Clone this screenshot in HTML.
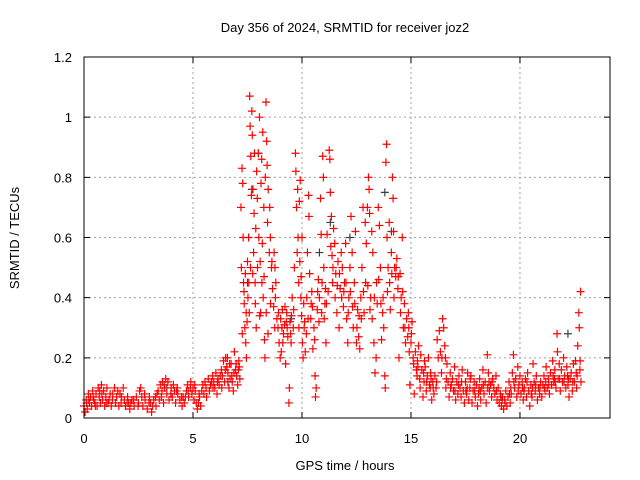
<!DOCTYPE html>
<html><head><meta charset="utf-8"><style>
html,body{margin:0;padding:0;background:#fff;}
svg{display:block;font-family:"Liberation Sans",sans-serif;}
</style></head><body>
<svg id="chart" width="640" height="480" viewBox="0 0 640 480" xmlns="http://www.w3.org/2000/svg">
<text x="345" y="32" font-size="13" text-anchor="middle" fill="#000">Day 356 of 2024, SRMTID for receiver joz2</text>
<text x="345" y="470" font-size="13" text-anchor="middle" fill="#000">GPS time / hours</text>
<text transform="translate(19,238) rotate(-90)" font-size="13" text-anchor="middle" fill="#000">SRMTID / TECUs</text>
<g id="grid"></g>
<g id="ticks"></g>
<g id="other"></g>
<g id="marks"></g>
<rect x="84" y="57" width="526" height="361" fill="none" stroke="#000" stroke-width="1"/>
</svg>
<script>
const xTicks=[0,5,10,15,20];
const yTicks=[0,0.2,0.4,0.6,0.8,1,1.2];
const yTickLabels=["0","0.2","0.4","0.6","0.8","1","1.2"];
const srmtid=[[0,0.04],[0.05,0.02],[0.1,0.06],[0.15,0.03],[0.2,0.08],[0.25,0.05],[0.3,0.07],[0.35,0.04],[0.4,0.09],[0.45,0.06],[0.5,0.05],[0.55,0.08],[0.6,0.04],[0.65,0.1],[0.7,0.07],[0.75,0.05],[0.8,0.11],[0.85,0.06],[0.9,0.09],[0.95,0.04],[1.0,0.07],[1.05,0.1],[1.1,0.05],[1.2,0.08],[1.25,0.04],[1.3,0.06],[1.4,0.1],[1.45,0.05],[1.5,0.07],[1.6,0.04],[1.65,0.08],[1.7,0.05],[1.8,0.1],[1.85,0.06],[1.9,0.04],[2.0,0.07],[2.05,0.05],[2.1,0.03],[2.2,0.06],[2.3,0.04],[2.4,0.07],[2.5,0.05],[2.55,0.09],[2.6,0.1],[2.7,0.04],[2.8,0.06],[2.9,0.03],[3.0,0.07],[3.05,0.05],[3.1,0.02],[3.2,0.06],[3.3,0.04],[3.35,0.08],[3.4,0.09],[3.5,0.11],[3.55,0.07],[3.6,0.12],[3.65,0.05],[3.7,0.1],[3.8,0.08],[3.85,0.12],[3.9,0.06],[4.0,0.1],[4.05,0.07],[4.1,0.11],[4.2,0.05],[4.25,0.09],[4.3,0.08],[4.4,0.06],[4.5,0.04],[4.55,0.07],[4.6,0.05],[4.7,0.09],[4.75,0.11],[4.8,0.07],[4.9,0.12],[4.95,0.08],[5.0,0.1],[5.05,0.06],[5.1,0.09],[5.15,0.05],[5.2,0.03],[5.3,0.07],[5.35,0.04],[5.4,0.09],[5.5,0.08],[5.55,0.12],[5.6,0.1],[5.7,0.13],[5.75,0.09],[5.8,0.11],[5.9,0.14],[5.95,0.12],[6.0,0.1],[6.05,0.15],[6.1,0.08],[6.15,0.13],[6.2,0.11],[6.3,0.16],[6.35,0.14],[6.4,0.19],[6.45,0.12],[6.5,0.2],[6.55,0.17],[6.6,0.15],[6.65,0.1],[6.7,0.13],[6.75,0.18],[6.8,0.12],[6.85,0.09],[6.9,0.22],[6.95,0.16],[7.0,0.14],[7.05,0.11],[7.1,0.19],[7.15,0.13],
[7.2,0.7],[7.22,0.5],[7.25,0.83],[7.28,0.78],[7.3,0.6],[7.32,0.45],[7.35,0.38],[7.38,0.3],[7.4,0.48],[7.42,0.25],[7.45,0.2],[7.5,0.52],[7.52,0.4],[7.55,0.6],[7.58,0.35],[7.6,1.07],[7.62,0.97],[7.65,0.87],[7.68,0.74],[7.7,1.02],[7.72,0.94],[7.75,0.76],[7.78,0.55],[7.8,0.68],[7.82,0.88],[7.85,0.45],[7.88,0.63],[7.9,0.3],[7.92,0.82],[7.95,0.73],[8.0,0.88],[8.02,0.6],[8.05,1.0],[8.08,0.52],[8.1,0.35],[8.12,0.78],[8.15,0.86],[8.18,0.58],[8.2,0.95],[8.22,0.4],[8.25,0.7],[8.28,0.26],[8.3,0.2],[8.32,0.8],[8.35,1.05],[8.38,0.92],[8.4,0.84],[8.42,0.65],[8.45,0.76],[8.5,0.55],[8.52,0.7],[8.55,0.6],[8.6,0.5],[8.65,0.43],[8.7,0.37],[8.72,0.55],[8.75,0.3],[8.8,0.45],[8.85,0.33],
[8.9,0.3],[8.95,0.25],[9.0,0.2],[9.02,0.33],[9.05,0.22],[9.1,0.36],[9.15,0.28],[9.2,0.31],[9.25,0.18],[9.3,0.35],[9.35,0.27],[9.4,0.05],[9.42,0.1],[9.45,0.32],[9.5,0.25],[9.55,0.4],[9.6,0.3],[9.65,0.5],[9.7,0.88],[9.72,0.82],[9.75,0.7],[9.78,0.55],[9.8,0.76],[9.82,0.6],[9.85,0.45],[9.88,0.72],[9.9,0.52],[9.92,0.79],[9.95,0.4],[9.98,0.34],[10.0,0.6],[10.02,0.25],[10.05,0.2],[10.1,0.3],[10.15,0.22],[10.2,0.28],[10.25,0.55],[10.3,0.74],[10.32,0.67],[10.35,0.48],[10.4,0.33],[10.45,0.42],[10.5,0.23],[10.55,0.3],[10.6,0.14],[10.62,0.07],[10.65,0.1],[10.7,0.36],[10.75,0.46],[10.8,0.4],[10.85,0.73],[10.88,0.61],[10.9,0.35],[10.95,0.87],[10.98,0.8],[11.0,0.5],[11.05,0.38],[11.1,0.25],[11.15,0.61],[11.2,0.42],[11.25,0.89],[11.28,0.86],[11.3,0.75],[11.32,0.57],[11.35,0.67],[11.38,0.54],[11.4,0.45],[11.45,0.63],[11.5,0.58],[11.55,0.48],[11.6,0.35],[11.65,0.52],[11.7,0.3],[11.75,0.43],[11.8,0.55],[11.85,0.5],[11.9,0.37],[11.95,0.45],[12.0,0.58],[12.05,0.33],[12.1,0.25],[12.15,0.4],[12.2,0.5],[12.25,0.67],[12.3,0.55],[12.35,0.3],[12.4,0.45],[12.45,0.62],[12.5,0.25],[12.55,0.36],[12.6,0.27],[12.65,0.23],[12.7,0.4],[12.75,0.5],[12.8,0.7],[12.85,0.35],[12.9,0.65],[12.95,0.58],[13.0,0.7],[13.02,0.44],[13.05,0.8],[13.08,0.76],[13.1,0.68],[13.15,0.4],[13.2,0.62],[13.25,0.55],[13.3,0.25],[13.35,0.15],[13.4,0.2],[13.45,0.38],[13.5,0.7],[13.55,0.64],[13.6,0.5],[13.65,0.26],[13.7,0.35],[13.75,0.3],[13.8,0.14],[13.82,0.1],[13.85,0.85],[13.88,0.91],[13.9,0.6],[13.95,0.5],[14.0,0.65],[14.05,0.36],[14.1,0.55],[14.15,0.8],[14.18,0.73],[14.2,0.62],[14.25,0.5],[14.3,0.47],[14.35,0.53],[14.4,0.43],[14.45,0.2],[14.5,0.48],[14.55,0.4],[14.6,0.6],[14.65,0.3],[14.7,0.38],[14.75,0.25],[14.8,0.33],[14.85,0.27],[14.9,0.3],[14.95,0.11],[15.0,0.25],[15.05,0.32],[15.1,0.2],[15.15,0.08],[15.2,0.22],[15.25,0.16],[15.3,0.19],[15.35,0.24],[15.4,0.13],[15.45,0.21],[15.5,0.16],[15.55,0.07],[15.6,0.12],[15.65,0.17],[15.7,0.09],[15.75,0.14],[15.8,0.2],[15.85,0.11],[15.9,0.15],[15.95,0.06],[16.0,0.12],[16.05,0.08],[16.1,0.14],[16.15,0.1],[16.2,0.26],[16.25,0.2],[16.3,0.29],[16.35,0.22],[16.4,0.15],[16.45,0.33],[16.5,0.3],[16.55,0.24],[16.6,0.1],[16.65,0.18],[16.7,0.12],[16.75,0.07],[16.8,0.15],[16.85,0.11],[16.9,0.13],[16.95,0.09],[17.0,0.17],[17.05,0.06],[17.1,0.12],[17.15,0.08],[17.2,0.14],[17.25,0.1],[17.3,0.07],[17.35,0.16],[17.4,0.09],[17.45,0.05],[17.5,0.12],[17.55,0.08],[17.6,0.15],[17.65,0.06],[17.7,0.1],[17.75,0.14],[17.8,0.05],[17.85,0.09],[17.9,0.12],[17.95,0.07],[18.0,0.11],[18.05,0.04],[18.1,0.08],[18.15,0.13],[18.2,0.06],[18.25,0.1],[18.3,0.16],[18.35,0.08],[18.4,0.12],[18.45,0.05],[18.5,0.21],[18.55,0.15],[18.6,0.09],[18.65,0.11],[18.7,0.07],[18.75,0.13],[18.8,0.1],[18.85,0.08],[18.9,0.14],[18.95,0.06],[19.0,0.1],[19.05,0.05],[19.1,0.08],[19.15,0.04],[19.2,0.07],[19.25,0.03],[19.3,0.06],[19.35,0.09],[19.4,0.04],[19.45,0.07],[19.5,0.12],[19.55,0.05],[19.6,0.08],[19.65,0.15],[19.7,0.21],[19.75,0.1],[19.8,0.13],[19.85,0.07],[19.9,0.17],[19.95,0.11],[20.0,0.14],[20.05,0.08],[20.1,0.12],[20.15,0.06],[20.2,0.1],[20.25,0.13],[20.3,0.07],[20.35,0.15],[20.4,0.09],[20.45,0.04],[20.5,0.11],[20.55,0.07],[20.6,0.18],[20.65,0.12],[20.7,0.09],[20.75,0.14],[20.8,0.06],[20.85,0.1],[20.9,0.08],[20.95,0.12],[21.0,0.07],[21.05,0.11],[21.1,0.14],[21.15,0.09],[21.2,0.17],[21.25,0.1],[21.3,0.13],[21.35,0.08],[21.4,0.15],[21.45,0.11],[21.5,0.19],[21.55,0.12],[21.6,0.16],[21.65,0.1],[21.7,0.28],[21.72,0.22],[21.75,0.13],[21.8,0.18],[21.85,0.09],[21.9,0.16],[21.95,0.12],[22.0,0.2],[22.05,0.14],[22.1,0.1],[22.15,0.17],[22.2,0.11],[22.25,0.07],[22.3,0.13],[22.35,0.15],[22.4,0.09],[22.45,0.18],[22.5,0.12],[22.55,0.19],[22.6,0.1],[22.65,0.24],[22.7,0.35],[22.72,0.3],[22.75,0.16],[22.78,0.42],[22.8,0.12],
[0.12,0.05],[0.42,0.07],[0.72,0.09],[1.15,0.06],[1.55,0.09],[2.15,0.05],[2.65,0.07],[3.15,0.04],[3.45,0.06],[3.75,0.13],[4.15,0.09],[4.65,0.07],[5.25,0.05],[5.45,0.11],[5.85,0.12],[6.25,0.14],[6.58,0.2],[6.88,0.15],[7.12,0.17],[7.34,0.42],[7.48,0.32],[7.64,0.5],[7.86,0.38],[8.06,0.34],[8.26,0.47],[8.44,0.28],[8.62,0.52],[8.78,0.4],[9.08,0.3],[9.28,0.32],[9.48,0.28],[10.08,0.38],[10.28,0.33],[10.48,0.37],[10.78,0.32],[11.08,0.43],[11.42,0.5],[11.72,0.48],[11.92,0.42],[12.12,0.35],[12.42,0.38],[12.72,0.33],[13.12,0.36],[13.42,0.45],[13.72,0.4],[14.02,0.45],[14.32,0.5],[14.62,0.42],[14.88,0.35],[15.28,0.14],[15.58,0.15],[15.88,0.1],[16.18,0.12],[16.58,0.2],[17.18,0.11],[17.58,0.1],[18.18,0.09],[18.58,0.12],[19.18,0.06],[19.58,0.1],[20.18,0.09],[20.58,0.1],[21.18,0.12],[21.58,0.13],[22.18,0.14],[22.58,0.15],
[0.22,0.06],[0.52,0.04],[0.82,0.08],[1.02,0.05],[1.32,0.08],[1.72,0.07],[1.98,0.05],[2.28,0.06],[2.48,0.04],[2.78,0.08],[2.98,0.05],[3.28,0.07],[3.58,0.09],[3.68,0.11],[3.98,0.08],[4.28,0.1],[4.48,0.07],[4.78,0.09],[4.88,0.1],[5.08,0.11],[5.28,0.08],[5.62,0.07],[5.92,0.1],[6.12,0.12],[6.32,0.1],[6.48,0.16],[6.68,0.18],[6.78,0.14],[6.98,0.18],[7.08,0.16],[7.26,0.28],[7.44,0.35],[7.56,0.45],[7.74,0.48],[7.96,0.5],[8.16,0.45],[8.36,0.35],[8.56,0.38],[8.76,0.5],[8.92,0.35],[9.12,0.25],[9.22,0.37],[9.32,0.3],[9.52,0.34],[9.62,0.36],[9.86,0.3],[9.96,0.47],[10.12,0.32],[10.22,0.4],[10.42,0.38],[10.58,0.26],[10.72,0.42],[10.92,0.45],[11.02,0.33],[11.12,0.38],[11.52,0.4],[11.62,0.44],[11.82,0.4],[12.02,0.45],[12.22,0.42],[12.32,0.37],[12.52,0.3],[12.62,0.34],[12.82,0.42],[12.92,0.45],[13.22,0.33],[13.32,0.4],[13.52,0.46],[13.62,0.38],[13.92,0.42],[14.12,0.48],[14.22,0.4],[14.42,0.47],[14.52,0.35],[14.72,0.3],[14.92,0.22],[15.02,0.28],[15.12,0.18],[15.32,0.17],[15.42,0.1],[15.62,0.19],[15.72,0.12],[15.92,0.13],[16.02,0.1],[16.42,0.2],[16.62,0.13],[16.82,0.1],[17.02,0.09],[17.32,0.12],[17.52,0.09],[17.72,0.13],[17.92,0.09],[18.12,0.1],[18.32,0.11],[18.52,0.1],[18.72,0.12],[18.92,0.09],[19.12,0.07],[19.32,0.05],[19.52,0.08],[19.72,0.12],[19.92,0.09],[20.12,0.1],[20.32,0.12],[20.52,0.08],[20.72,0.11],[20.92,0.1],[21.12,0.1],[21.32,0.11],[21.52,0.14],[21.62,0.12],[21.82,0.13],[22.02,0.12],[22.22,0.13],[22.42,0.12],[22.62,0.14],[22.76,0.19]];
const otherSeries=[[3.8,0.1],[6.6,0.12],[7.5,0.45],[7.7,0.76],[8.0,0.88],[9.5,0.33],[10.8,0.55],[11.3,0.65],[12.2,0.6],[13.8,0.75],[14.1,0.62],[22.2,0.28]];

const X0=84,X1=610,Y0=418,Y1=57,XMAX=24.13,YMAX=1.2;
const NS="http://www.w3.org/2000/svg";
function sx(v){return X0+(X1-X0)*v/XMAX;}
function sy(v){return Y0-(Y0-Y1)*v/YMAX;}
function mk(tag,attrs){const e=document.createElementNS(NS,tag);for(const k in attrs)e.setAttribute(k,attrs[k]);return e;}
const grid=document.getElementById('grid'),ticks=document.getElementById('ticks');
xTicks.forEach(t=>{
  const x=sx(t);
  if(t>0){const g=mk('line',{x1:x,y1:Y1,x2:x,y2:Y0,stroke:'#a0a0a0','stroke-dasharray':'2,3','stroke-width':1});
  
  
  grid.appendChild(g);}
  const tk=mk('path',{d:`M${x},${Y0}v-6M${x},${Y1}v6`,stroke:'#000','stroke-width':1});
  
  
  ticks.appendChild(tk);
  const lb=mk('text',{x:x,y:443,'font-size':13,'text-anchor':'middle',fill:'#000'});lb.textContent=String(t);
  
  
  ticks.appendChild(lb);
});
yTicks.forEach((t,i)=>{
  const y=sy(t);
  if(t>0&&t<YMAX){const g=mk('line',{x1:X0,y1:y,x2:X1,y2:y,stroke:'#a0a0a0','stroke-dasharray':'2,3','stroke-width':1});
  
  
  grid.appendChild(g);}
  const tk=mk('path',{d:`M${X0},${y}h6M${X1},${y}h-6`,stroke:'#000','stroke-width':1});
  
  
  ticks.appendChild(tk);
  const lb=mk('text',{x:72,y:y+5,'font-size':13,'text-anchor':'end',fill:'#000'});lb.textContent=yTickLabels[i];
  
  
  ticks.appendChild(lb);
});
function plus(g,d,col,name){
  const x=sx(d[0]),y=sy(d[1]);
  const p=mk('path',{d:`M${x-4},${y}h8M${x},${y-4}v8`,stroke:col,'stroke-width':1.2,fill:'none'});
  
  
  g.appendChild(p);
}
const og=document.getElementById('other');
otherSeries.forEach(d=>plus(og,d,'#404040','secondary-point'));
const mg=document.getElementById('marks');
srmtid.forEach(d=>plus(mg,d,'#ff0000','srmtid-point'));
</script>
</body></html>
